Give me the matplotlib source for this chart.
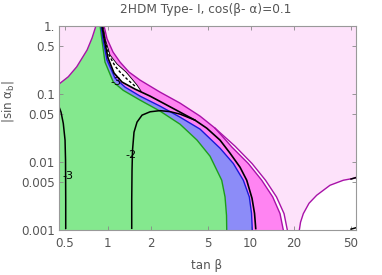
import matplotlib.pyplot as plt
from matplotlib.ticker import NullLocator

# region boundaries, (tan beta, |sin alpha_b|)
left_tb = [0.4565, 0.530, 0.607, 0.717, 0.777, 0.828]
left_sa = [0.139, 0.178, 0.249, 0.439, 0.659, 1.0]

green_tb = [0.884, 0.908, 0.957, 1.094, 1.285, 1.682, 2.321, 3.203, 4.212, 5.193, 6.269, 6.612, 6.773, 6.795]
green_sa = [1.0, 0.644, 0.2925, 0.1486, 0.1122, 0.0808, 0.0557, 0.0358, 0.0209, 0.01213, 0.00538, 0.00306, 0.00164, 0.001]

blue_tb = [0.898, 0.927, 0.989, 1.125, 1.321, 1.682, 2.321, 3.203, 4.421, 6.099, 7.557, 8.877, 9.777, 10.13, 10.26]
blue_sa = [1.0, 0.616, 0.313, 0.170, 0.1255, 0.0925, 0.0659, 0.0454, 0.0303, 0.0159, 0.00947, 0.00538, 0.00306, 0.00176, 0.001]

black_tb = [0.912, 0.947, 1.005, 1.107, 1.259, 1.552, 1.977, 2.516, 3.203, 4.077, 4.924, 6.099, 7.166, 8.418, 9.376, 10.21, 10.63, 10.84]
black_sa = [1.0, 0.616, 0.335, 0.2016, 0.1486, 0.1172, 0.0925, 0.0706, 0.0538, 0.0410, 0.0313, 0.0209, 0.01343, 0.00836, 0.00538, 0.00292, 0.00176, 0.00105]

purple1_tb = [0.942, 0.989, 1.089, 1.219, 1.409, 1.682, 2.321, 3.203, 4.421, 5.628, 7.365, 9.621, 11.94, 14.25, 16.03, 16.90]
purple1_sa = [1.0, 0.644, 0.410, 0.2925, 0.2085, 0.159, 0.1059, 0.0730, 0.0470, 0.0313, 0.01662, 0.00947, 0.00538, 0.00306, 0.00174, 0.001]

purple2_tb = [5.628, 7.767, 10.21, 12.69, 15.15, 17.10, 18.03]
purple2_sa = [0.0313, 0.01702, 0.00947, 0.00538, 0.00306, 0.00174, 0.001]

# white strip with the dense contours near the top
wu_tb = [0.927, 0.965, 1.038, 1.162, 1.343, 1.479, 1.603, 1.710]
wu_sa = [1.0, 0.616, 0.371, 0.2734, 0.2085, 0.1645, 0.1342, 0.1096]
hatch_tb = [0.920, 0.954, 1.021, 1.125, 1.219, 1.387, 1.552]
hatch_sa = [1.0, 0.616, 0.371, 0.2555, 0.2085, 0.159, 0.1298]

arc_tb = [21.88, 22.3, 23.33, 25.57, 28.94, 35.85, 44.42, 54.5]
arc_sa = [0.001, 0.0013, 0.00174, 0.00247, 0.00324, 0.00454, 0.00538, 0.00582]

m2_tb = [1.472, 1.472, 1.479, 1.491, 1.527, 1.603, 1.738, 1.977, 2.321, 2.728, 3.203, 4.077]
m2_sa = [0.00106, 0.00273, 0.00755, 0.01486, 0.0273, 0.0384, 0.0486, 0.0544, 0.0566, 0.0547, 0.0503, 0.0410]

m3_tb = [0.4565, 0.4715, 0.489, 0.503, 0.507, 0.5085, 0.5085]
m3_sa = [0.0644, 0.0538, 0.0367, 0.0209, 0.0106, 0.00273, 0.00106]

edge_tb = [50.3, 54.5]
edge1_sa = [0.0056, 0.0059]
edge2_sa = [0.00103, 0.00108]

labels = ["-3", "-2", "-3"]
label_tb = [0.525, 1.451, 1.139]
label_sa = [0.00616, 0.01255, 0.150]

xticks = [0.5, 1, 2, 5, 10, 20, 50]
xticklabels = ["0.5", "1", "2", "5", "10", "20", "50"]
yticks = [0.001, 0.005, 0.01, 0.05, 0.1, 0.5, 1.0]
yticklabels = ["0.001", "0.005", "0.01", "0.05", "0.1", "0.5", "1."]

xmin, xmax = 0.4565, 54.5
ymin, ymax = 0.001, 1.0

pink = "#fde2fa"
green = "#84e88e"
blue = "#8c8cf8"
magenta = "#ff84f2"
purple = "#a812a8"
gray = "#555555"

fig = plt.figure(figsize=(3.82, 2.75), dpi=100)
ax = fig.add_axes([0.1545, 0.1636, 0.7775, 0.743])
ax.set_xscale("log")
ax.set_yscale("log")
ax.set_facecolor(pink)

# white corner bottom right
ax.fill(arc_tb + [xmax], arc_sa + [ymin], color="white", lw=0)
# white gap between the two purple lines
ax.fill(purple2_tb + purple1_tb[9:][::-1], purple2_sa + purple1_sa[9:][::-1], color="white", lw=0)
# magenta band
ax.fill(purple1_tb + blue_tb[::-1], purple1_sa + blue_sa[::-1], color=magenta, lw=0)
# blue band
ax.fill(blue_tb + green_tb[::-1], blue_sa + green_sa[::-1], color=blue, lw=0)
# green region
ax.fill(left_tb + green_tb + [xmin], left_sa + green_sa + [ymin], color=green, lw=0)
# white strip at top
ax.fill(wu_tb + black_tb[:6][::-1], wu_sa + black_sa[:6][::-1], color="white", lw=0)

ax.plot(left_tb, left_sa, color=purple, lw=1)
ax.plot(green_tb, green_sa, color="#1c9c1c", lw=1)
ax.plot(blue_tb, blue_sa, color="#1818d8", lw=1)
ax.plot(black_tb, black_sa, color="black", lw=1.2)
ax.plot(hatch_tb, hatch_sa, color="black", lw=1, ls=(0, (2, 1.5)))
ax.plot(wu_tb, wu_sa, color="black", lw=0.6)
ax.plot(purple1_tb, purple1_sa, color=purple, lw=1)
ax.plot(purple2_tb, purple2_sa, color=purple, lw=1)
ax.plot(arc_tb, arc_sa, color=purple, lw=1)
ax.plot(m2_tb, m2_sa, color="black", lw=1.1)
ax.plot(m3_tb, m3_sa, color="black", lw=1.1)
ax.plot(edge_tb, edge1_sa, color="black", lw=1.1)
ax.plot(edge_tb, edge2_sa, color="black", lw=1.1)

for lab, tb, sa in zip(labels, label_tb, label_sa):
    ax.text(tb, sa, lab, fontsize=8, color="black", ha="center", va="center", zorder=5)

ax.set_xlim(xmin, xmax)
ax.set_ylim(ymin, ymax)
ax.set_xticks(xticks)
ax.set_xticklabels(xticklabels)
ax.set_yticks(yticks)
ax.set_yticklabels(yticklabels)
ax.xaxis.set_minor_locator(NullLocator())
ax.yaxis.set_minor_locator(NullLocator())
ax.tick_params(direction="in", length=3, width=0.6, color="#888888", labelcolor=gray,
               labelsize=8.6, top=True, right=True)
ax.tick_params(axis="x", pad=5)
ax.tick_params(axis="y", pad=3)
for s in ax.spines.values():
    s.set_color("#999999")
    s.set_linewidth(0.8)

fig.text(0.5385, 0.967, "2HDM Type- I, cos(β- α)=0.1", ha="center", va="center", fontsize=8.7, color=gray)
fig.text(0.542, 0.036, "tan β", ha="center", va="center", fontsize=8.6, color=gray)
fig.text(0.022, 0.629, "|sin α$_\\mathregular{b}$|", ha="center", va="center", rotation=90, fontsize=8.6, color=gray)

fig.savefig("out.png", dpi=100)
